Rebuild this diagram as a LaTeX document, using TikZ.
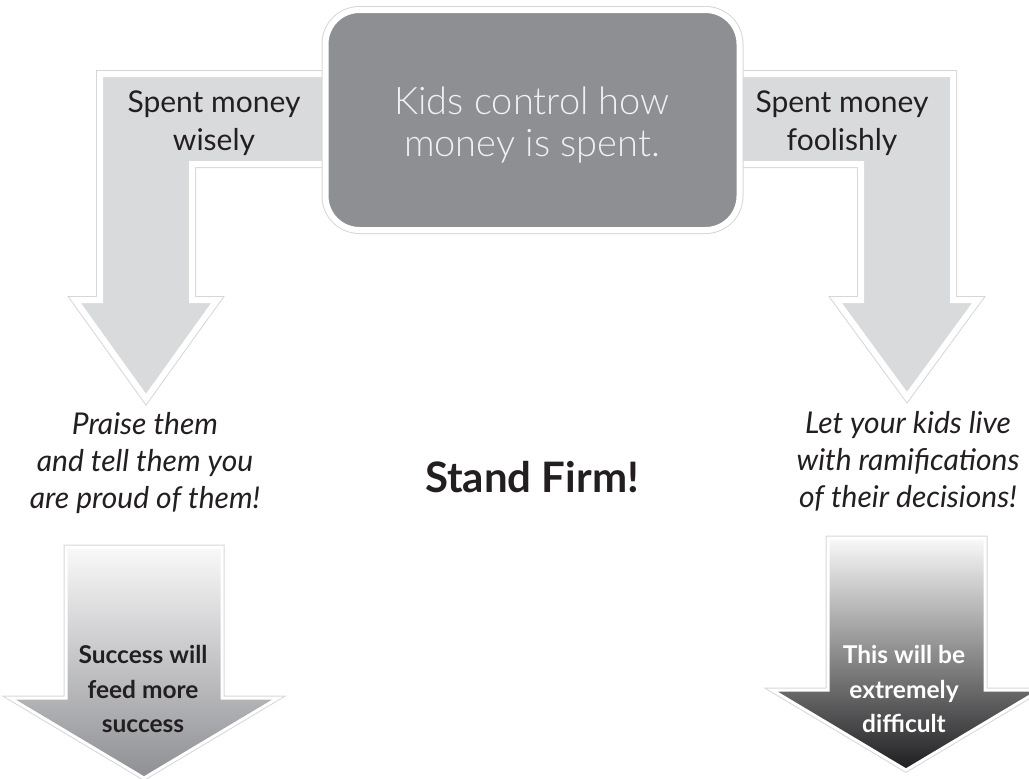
\documentclass[tikz,border=0pt]{standalone}
\usepackage{fontspec}
\setmainfont{Lato}
\IfFontExistsTF{Lato Light}{\newfontfamily\lightfont{Lato Light}}{\newfontfamily\lightfont{Lato}}

\definecolor{boxgray}{RGB}{142,143,147}
\definecolor{bargray}{RGB}{217,218,220}
\definecolor{rimgray}{RGB}{214,215,217}
\definecolor{ink}{RGB}{35,31,32}
\definecolor{boxink}{RGB}{240,240,240}
\definecolor{paletop}{RGB}{249,249,249}
\definecolor{softbottom}{RGB}{142,143,147}
\definecolor{darkbottom}{RGB}{30,30,32}

\tikzset{
  bentarrow/.style={fill=bargray, draw=white, line width=6pt, line join=miter,
    preaction={draw=rimgray, line width=8pt, line join=miter}},
  kidsbox/.style={rounded corners=34pt, minimum width=414pt, minimum height=220pt,
    fill=boxgray, draw=white, line width=6pt, inner sep=0pt,
    preaction={draw=rimgray, line width=8pt}},
  blockarrow/.style={draw=white, line width=3pt, line join=miter,
    preaction={draw=rimgray, line width=5pt, line join=miter}},
  armtext/.style={font=\fontsize{30}{37.5}\selectfont, text=ink, align=center, inner sep=0pt},
  boxtext/.style={font=\lightfont\fontsize{38}{42}\selectfont, text=boxink, align=center, inner sep=0pt},
  advice/.style={font=\itshape\fontsize{30}{37}\selectfont, text=ink, align=center, inner sep=0pt},
  motto/.style={font=\bfseries\fontsize{42}{50}\selectfont, text=ink, inner sep=0pt},
  outcome/.style={font=\bfseries\fontsize{24.5}{34.5}\selectfont, align=center, inner sep=0pt},
}

\begin{document}
\begin{tikzpicture}[x=1pt,y=-1pt]
\useasboundingbox (0,0) rectangle (1029,779);
\clip (0,0) rectangle (1029,779);

% bent arrows leaving the central box
\path[bentarrow] (100,74) -- (345,74) -- (345,164) -- (192,164) -- (192,300)
  -- (217,300) -- (146,399) -- (75,300) -- (100,300) -- cycle;
\path[bentarrow] (953,74) -- (720,74) -- (720,164) -- (861,164) -- (861,300)
  -- (836,300) -- (907,397) -- (978,300) -- (953,300) -- cycle;

% central box
\node[kidsbox] (kids) at (532.5,120) {};
\node[boxtext] (kidstext) at (532,125) {Kids control how\\money is spent.};

% branch labels
\node[armtext] (wise) at (214,123) {Spent money\\wisely};
\node[armtext] (fool) at (842,123) {Spent money\\foolishly};

% advice texts
\node[advice] (praise) at (145,463) {Praise them\\and tell them you\\are proud of them!};
\node[advice] (live) at (908,461) {Let your kids live\\with ramifications\\of their decisions!};

\node[motto] (firm) at (532,477) {Stand Firm!};

% outcome block arrows
\shadedraw[blockarrow, top color=paletop, bottom color=softbottom]
  (66,547) -- (222,547) -- (222,698) -- (278,698) -- (144,778) -- (10,698) -- (66,698) -- cycle;
\shadedraw[blockarrow, top color=paletop, bottom color=darkbottom]
  (828,538) -- (985,538) -- (985,690) -- (1040,690) -- (906,770) -- (772,690) -- (828,690) -- cycle;

\node[outcome, text=ink] (success) at (143,689) {Success will\\feed more\\success};
\node[outcome, text=white] (hard) at (904,689) {This will be\\extremely\\difficult};
\end{tikzpicture}
\end{document}
